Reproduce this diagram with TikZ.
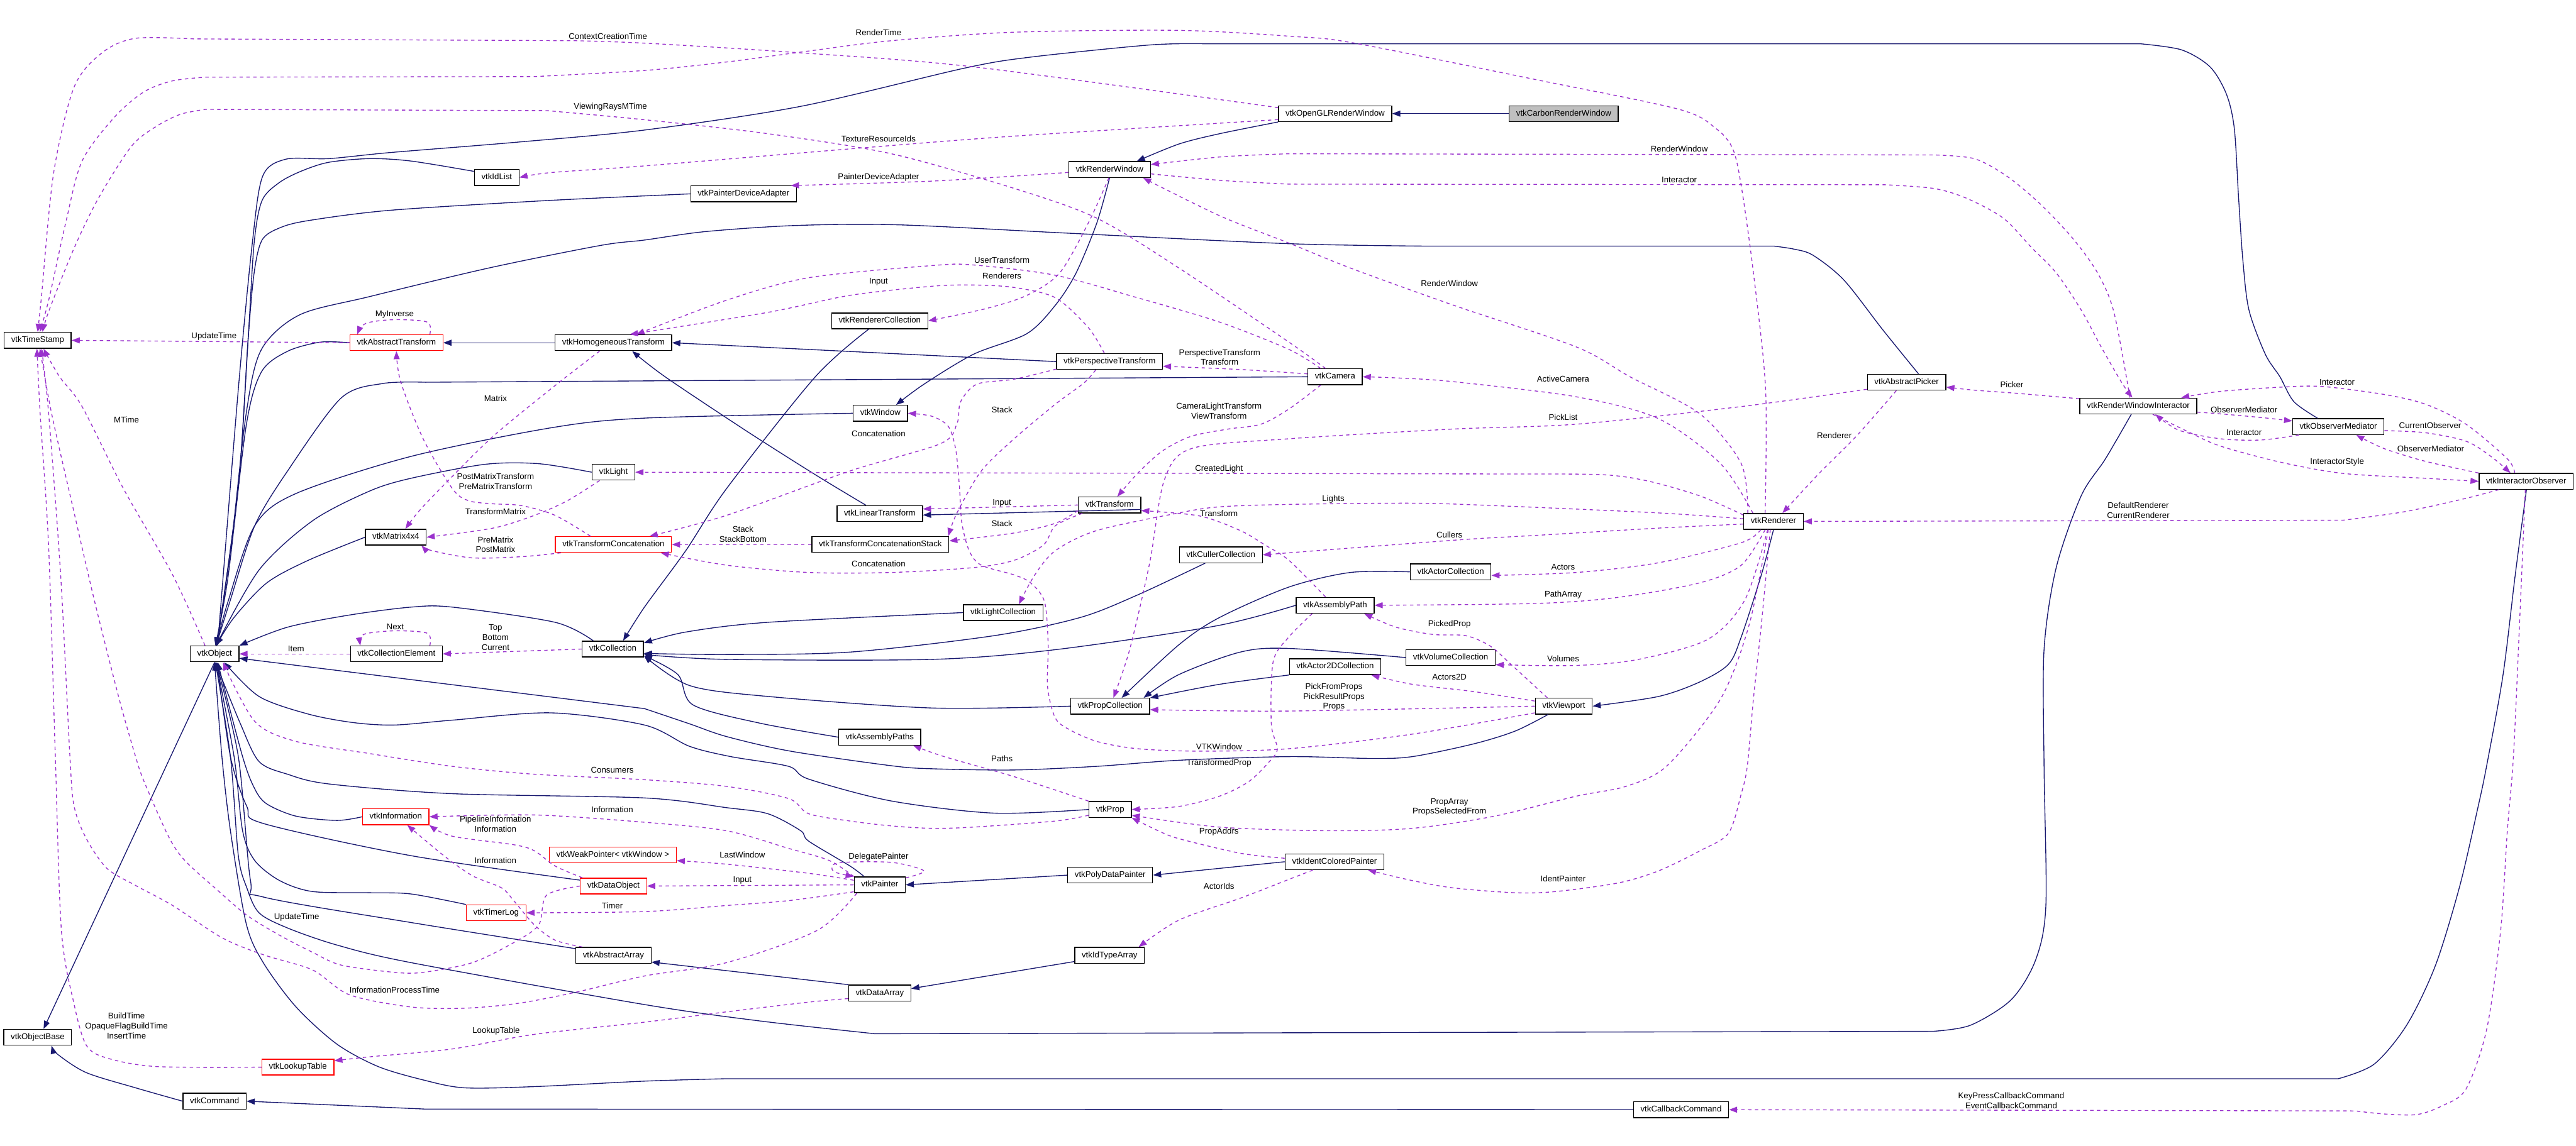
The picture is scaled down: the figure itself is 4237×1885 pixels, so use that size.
\documentclass[tikz,border=0pt]{standalone}
\usepackage{fontspec}
\setmainfont{Liberation Sans}
\usetikzlibrary{arrows.meta}
\definecolor{inhblue}{HTML}{191970}
\definecolor{usepurple}{HTML}{9A32CD}
\definecolor{boxgray}{HTML}{BFBFBF}
\begin{document}
\begin{tikzpicture}[x=0.01cm,y=-0.01cm,
  cls/.style={draw=black,line width=0.4pt,font=\fontsize{3.9}{4.6}\selectfont,inner xsep=0.115cm,inner ysep=0pt,minimum height=0.26cm,text height=2.9pt,text depth=0.9pt},
  redcls/.style={cls,draw=red},
  inh/.style={draw=inhblue,line width=0.4pt,-{Triangle[length=3.8pt,width=2.8pt]}},
  use/.style={draw=usepurple,line width=0.4pt,dash pattern=on 1.6pt off 1.6pt,-{Triangle[length=3.8pt,width=2.8pt]}},
  lbl/.style={font=\fontsize{3.9}{4.6}\selectfont,align=center,inner sep=0pt}]
\useasboundingbox (0,0) rectangle (4237,1885);
\node[cls] (ts) at (62,560) {vtkTimeStamp};
\node[cls] (ob) at (62,1707) {vtkObjectBase};
\node[cls] (obj) at (353,1076) {vtkObject};
\node[cls] (cmd) at (353,1812) {vtkCommand};
\node[redcls] (lut) at (490,1756) {vtkLookupTable};
\node[redcls] (atr) at (652,564) {vtkAbstractTransform};
\node[cls] (m44) at (651,884) {vtkMatrix4x4};
\node[cls] (cel) at (652,1076) {vtkCollectionElement};
\node[redcls] (info) at (651,1344) {vtkInformation};
\node[cls] (idl) at (817,292) {vtkIdList};
\node[redcls] (tlog) at (816,1502) {vtkTimerLog};
\node[cls] (htr) at (1009,564) {vtkHomogeneousTransform};
\node[cls] (lgt) at (1009,777) {vtkLight};
\node[redcls] (tcat) at (1009,896) {vtkTransformConcatenation};
\node[cls] (coll) at (1008,1068) {vtkCollection};
\node[redcls] (wkp) at (1008,1407) {vtkWeakPointer< vtkWindow >};
\node[redcls] (dobj) at (1009,1458) {vtkDataObject};
\node[cls] (aarr) at (1009,1572) {vtkAbstractArray};
\node[cls] (pda) at (1223,319) {vtkPainterDeviceAdapter};
\node[cls] (rcol) at (1447,528) {vtkRendererCollection};
\node[cls] (win) at (1448,680) {vtkWindow};
\node[cls] (ltr) at (1447,845) {vtkLinearTransform};
\node[cls] (tcs) at (1448,896) {vtkTransformConcatenationStack};
\node[cls] (apths) at (1447,1213) {vtkAssemblyPaths};
\node[cls] (pnt) at (1447,1456) {vtkPainter};
\node[cls] (darr) at (1447,1634) {vtkDataArray};
\node[cls] (lcol) at (1650,1008) {vtkLightCollection};
\node[cls] (rw) at (1825,279) {vtkRenderWindow};
\node[cls] (ptr) at (1825,595) {vtkPerspectiveTransform};
\node[cls] (trf) at (1825,831) {vtkTransform};
\node[cls] (pcol) at (1826,1162) {vtkPropCollection};
\node[cls] (prop) at (1826,1332) {vtkProp};
\node[cls] (pdp) at (1826,1440) {vtkPolyDataPainter};
\node[cls] (ita) at (1825,1572) {vtkIdTypeArray};
\node[cls] (ccol) at (2008,913) {vtkCullerCollection};
\node[cls] (oglw) at (2196,187) {vtkOpenGLRenderWindow};
\node[cls] (cam) at (2196,620) {vtkCamera};
\node[cls] (apth) at (2196,996) {vtkAssemblyPath};
\node[cls] (a2d) at (2196,1097) {vtkActor2DCollection};
\node[cls] (icp) at (2195,1418) {vtkIdentColoredPainter};
\node[cls] (acol) at (2386,941) {vtkActorCollection};
\node[cls] (vcol) at (2386,1082) {vtkVolumeCollection};
\node[cls,fill=boxgray] (crw) at (2572,187) {vtkCarbonRenderWindow};
\node[cls] (vp) at (2572,1162) {vtkViewport};
\node[cls] (cbc) at (2765,1826) {vtkCallbackCommand};
\node[cls] (ren) at (2917,858) {vtkRenderer};
\node[cls] (apk) at (3136,629) {vtkAbstractPicker};
\node[cls] (rwi) at (3517,668) {vtkRenderWindowInteractor};
\node[cls] (om) at (3846,702) {vtkObserverMediator};
\node[cls] (io) at (4155,792) {vtkInteractorObserver};
\node[lbl] (lbContext) at (1000,60) {ContextCreationTime};
\node[lbl] (lbRenderTime) at (1445,54) {RenderTime};
\node[lbl] (lbViewRays) at (1004,176) {ViewingRaysMTime};
\node[lbl] (lbTexture) at (1445,228) {TextureResourceIds};
\node[lbl] (lbPDA) at (1445,292) {PainterDeviceAdapter};
\node[lbl] (lbRWren) at (2384,466) {RenderWindow};
\node[lbl] (lbRWrwi) at (2762,245) {RenderWindow};
\node[lbl] (lbInteractorRW) at (2762,296) {Interactor};
\node[lbl] (lbUpdAtr) at (352,554) {UpdateTime};
\node[lbl] (lbMyInv) at (649,518) {MyInverse};
\node[lbl] (lbMatrix) at (815,656) {Matrix};
\node[lbl] (lbPostPre) at (815,792) {PostMatrixTransform\\PreMatrixTransform};
\node[lbl] (lbTMatrix) at (815,842) {TransformMatrix};
\node[lbl] (lbPrePost) at (815,896) {PreMatrix\\PostMatrix};
\node[lbl] (lbItem) at (487,1068) {Item};
\node[lbl] (lbNext) at (650,1031) {Next};
\node[lbl] (lbTop) at (815,1049) {Top\\Bottom\\Current};
\node[lbl] (lbMTime) at (208,691) {MTime};
\node[lbl] (lbRenderers) at (1648,454) {Renderers};
\node[lbl] (lbUserTr) at (1648,428) {UserTransform};
\node[lbl] (lbInputPtr) at (1445,464) {Input};
\node[lbl] (lbPerspTr) at (2006,588) {PerspectiveTransform\\Transform};
\node[lbl] (lbConcatPtr) at (1445,713) {Concatenation};
\node[lbl] (lbStackPtr) at (1648,674) {Stack};
\node[lbl] (lbStackBottom) at (1222,879) {Stack\\StackBottom};
\node[lbl] (lbConcatTrf) at (1445,928) {Concatenation};
\node[lbl] (lbStackTrf) at (1648,861) {Stack};
\node[lbl] (lbInputTrf) at (1648,828) {Input};
\node[lbl] (lbCamLight) at (2005,676) {CameraLightTransform\\ViewTransform};
\node[lbl] (lbCreatedLight) at (2005,772) {CreatedLight};
\node[lbl] (lbTransform) at (2005,845) {Transform};
\node[lbl] (lbVTKWindow) at (2005,1229) {VTKWindow};
\node[lbl] (lbPaths) at (1648,1248) {Paths};
\node[lbl] (lbTransfProp) at (2005,1256) {TransformedProp};
\node[lbl] (lbActiveCam) at (2571,624) {ActiveCamera};
\node[lbl] (lbPickList) at (2571,687) {PickList};
\node[lbl] (lbRenderer) at (3017,717) {Renderer};
\node[lbl] (lbLights) at (2193,821) {Lights};
\node[lbl] (lbCullers) at (2384,880) {Cullers};
\node[lbl] (lbActors) at (2571,933) {Actors};
\node[lbl] (lbPathArray) at (2571,979) {PathArray};
\node[lbl] (lbPickedProp) at (2384,1027) {PickedProp};
\node[lbl] (lbVolumes) at (2571,1084) {Volumes};
\node[lbl] (lbActors2D) at (2384,1114) {Actors2D};
\node[lbl] (lbProps) at (2194,1147) {PickFromProps\\PickResultProps\\Props};
\node[lbl] (lbPropArray) at (2384,1328) {PropArray\\PropsSelectedFrom};
\node[lbl] (lbIdentPainter) at (2571,1446) {IdentPainter};
\node[lbl] (lbPropAddrs) at (2005,1369) {PropAddrs};
\node[lbl] (lbActorIds) at (2005,1458) {ActorIds};
\node[lbl] (lbConsumers) at (1007,1267) {Consumers};
\node[lbl] (lbInfoPnt) at (1007,1332) {Information};
\node[lbl] (lbPipeInfo) at (815,1356) {PipelineInformation\\Information};
\node[lbl] (lbInfoArr) at (815,1416) {Information};
\node[lbl] (lbLastWindow) at (1221,1407) {LastWindow};
\node[lbl] (lbInputPnt) at (1221,1448) {Input};
\node[lbl] (lbDelegate) at (1445,1410) {DelegatePainter};
\node[lbl] (lbTimer) at (1007,1490) {Timer};
\node[lbl] (lbUpdDobj) at (488,1509) {UpdateTime};
\node[lbl] (lbInfoProc) at (649,1629) {InformationProcessTime};
\node[lbl] (lbLookup) at (816,1697) {LookupTable};
\node[lbl] (lbBuildTime) at (208,1688) {BuildTime\\OpaqueFlagBuildTime\\InsertTime};
\node[lbl] (lbKeyPress) at (3308,1811) {KeyPressCallbackCommand\\EventCallbackCommand};
\node[lbl] (lbPicker) at (3309,633) {Picker};
\node[lbl] (lbInteractorIO) at (3844,629) {Interactor};
\node[lbl] (lbObsMedRWI) at (3691,674) {ObserverMediator};
\node[lbl] (lbInteractorOM) at (3691,712) {Interactor};
\node[lbl] (lbCurObs) at (3997,700) {CurrentObserver};
\node[lbl] (lbObsMedIO) at (3998,738) {ObserverMediator};
\node[lbl] (lbIStyle) at (3844,760) {InteractorStyle};
\node[lbl] (lbDefRen) at (3517,840) {DefaultRenderer\\CurrentRenderer};
\draw[inh] (crw) -- (oglw);
\draw[inh] plot[smooth] coordinates {(oglw.south west) (2006,220) (1939,237) (rw.17)};
\draw[inh] plot[smooth] coordinates {(rw.south) (1804,367) (1770,449) (1736,502) (1689,549) (1601,583) (1520,632) (win.28)};
\draw[inh] plot[smooth] coordinates {(win.west) (1060,688) (906,704) (676,751) (487,812) (419,865) (375,990) (obj.80)};
\draw[inh] (obj.south) -- (ob.55);
\draw[inh] plot[smooth] coordinates {(cmd.west) (223,1790) (142,1765) (95,1735) (ob.-31)};
\draw[inh] (cbc.west) -- (700,1825) -- (cmd.east);
\draw[inh] plot[smooth] coordinates {(atr.west) (527,563) (473,578) (430,612) (405,700) (375,950) (obj.85)};
\draw[inh] (htr) -- (atr);
\draw[inh] (ptr.west) -- (htr.east);
\draw[inh] plot[smooth] coordinates {(ltr.149) (1344,783) (1229,710) (1094,620) (htr.-24)};
\draw[inh] (trf.-8) -- (ltr.-2);
\draw[inh] plot[smooth] coordinates {(m44.west) (507,922) (439,959) (385,1016) (obj.80)};
\draw[inh] plot[smooth] coordinates {(lgt.west) (886,763) (798,764) (676,787) (608,808) (514,857) (426,938) (obj.80)};
\draw[inh] plot[smooth] coordinates {(idl.165) (676,265) (608,261) (541,267) (497,281) (460,300) (431,330) (418,400) (408,560) (392,800) (obj.75)};
\draw[inh] plot[smooth] coordinates {(pda.west) (900,330) (642,346) (507,363) (460,375) (431,395) (418,449) (408,560) (392,800) (obj.75)};
\draw[inh] plot[smooth] coordinates {(om.158) (3773,661) (3750,620) (3726,583) (3699,510) (3689,428) (3682,326) (3675,212) (3662,155) (3635,110) (3588,82) (3520,72)} -- plot[smooth] coordinates {(1979,72) (1891,74) (1695,94) (1587,112) (1317,175) (1060,214) (850,234) (642,251) (541,261) (470,262) (432,290) (415,400) (392,640) (obj.70)};
\draw[inh] plot[smooth] coordinates {(apk.35) (3097,543) (3033,461) (2982,420) (2951,410) (2918,405)} -- plot[smooth] coordinates {(2350,405) (2120,401) (1763,384) (1479,370) (1310,371) (1161,381) (1060,395) (987,404) (804,441) (608,488) (493,518) (430,575) (405,680) (380,900) (obj.75)};
\draw[inh] (cam.west) -- plot[smooth] coordinates {(700,629) (630,631) (561,655) (473,775) (419,865) (379,987) (obj.80)};
\draw[inh] plot[smooth] coordinates {(coll.157) (913,1024) (744,999) (676,999) (575,1012) (473,1032) (obj.north east)};
\draw[inh] plot[smooth] coordinates {(rcol.-143) (1341,620) (1195,804) (1128,906) (1060,999) (coll.39)};
\draw[inh] plot[smooth] coordinates {(lcol.west) (1263,1024) (1128,1040) (coll.11)};
\draw[inh] plot[smooth] coordinates {(ccol.-152) (1871,979) (1777,1016) (1635,1046) (1398,1073) (1195,1077) (coll.-8)};
\draw[inh] plot[smooth] coordinates {(apth.west) (2000,1030) (1736,1069) (1533,1085) (1195,1085) (coll.-10)};
\draw[inh] plot[smooth] coordinates {(pcol.west) (1533,1165) (1263,1146) (1134,1128) (coll.-12)};
\draw[inh] plot[smooth] coordinates {(apths.west) (1250,1190) (1140,1160) (1115,1110) (coll.-12)};
\draw[inh] plot[smooth] coordinates {(acol.west) (2221,942) (2120,966) (2006,1016) (1939,1061) (pcol.36)};
\draw[inh] plot[smooth] coordinates {(vcol.west) (2120,1067) (2040,1073) (1939,1110) (pcol.14)};
\draw[inh] plot[smooth] coordinates {(a2d.south west) (2006,1126) (pcol.north east)};
\draw[inh] plot[smooth] coordinates {(ren.south) (2897,946) (2864,1048) (2843,1093) (2796,1122) (2728,1146) (vp.east)};
\draw[inh] plot[smooth] coordinates {(vp.-152) (2492,1203) (2424,1224) (2323,1245) (2255,1248) (2120,1245) (1939,1251) (1804,1261) (1668,1267) (1533,1265) (1466,1260) (1300,1236) (1195,1212) (1134,1191) (1060,1166)} -- (obj.-10);
\draw[inh] plot[smooth] coordinates {(prop.west) (1635,1338) (1466,1318) (1330,1282) (1297,1261) (1202,1245) (1134,1228) (1060,1193) (906,1173) (744,1185) (649,1193) (581,1189) (507,1175) (426,1146) (obj.-41)};
\draw[inh] plot[smooth] coordinates {(info.west) (554,1350) (487,1343) (439,1323) (419,1298) (399,1245) (obj.-70)};
\draw[inh] plot[smooth] coordinates {(dobj.170) (676,1408) (433,1355) (406,1327) (379,1245) (obj.-75)};
\draw[inh] plot[smooth] coordinates {(tlog.north west) (676,1471) (608,1469) (514,1467) (460,1449) (419,1416) (399,1367) (385,1245) (obj.-80)};
\draw[inh] plot[smooth] coordinates {(aarr.170) (676,1518) (433,1476) (412,1449) (392,1245) (obj.-80)};
\draw[inh] (darr.165) -- (aarr.-10);
\draw[inh] (ita.190) -- (darr.8);
\draw[inh] plot[smooth] coordinates {(pnt.152) (1398,1425) (1330,1384) (1317,1367) (1263,1339) (1195,1329) (1060,1313) (744,1306) (541,1290) (473,1274) (426,1253) (395,1190) (obj.-85)};
\draw[inh] (pdp.west) -- (pnt.east);
\draw[inh] (icp.west) -- (pdp.east);
\draw[inh] plot[smooth] coordinates {(rwi.-130) (3463,755) (3423,816) (3382,934) (3362,1069) (3362,1260) (3365,1490) (3348,1580) (3308,1645) (3241,1687) (3180,1697)} -- plot[smooth] coordinates {(1439,1701) (1250,1680) (1060,1653) (676,1584) (554,1555) (473,1527) (426,1502) (406,1461) (392,1408) (379,1245) (obj.-85)};
\draw[inh] plot[smooth] coordinates {(io.-88) (4137,946) (4117,1110) (4090,1260) (4076,1327) (4046,1457) (4006,1588) (3959,1686) (3905,1751) (3846,1775)} -- plot[smooth] coordinates {(1195,1775) (1060,1779) (879,1788) (764,1790) (696,1777) (622,1755) (554,1718) (487,1657) (433,1584) (405,1520) (379,1367) (365,1245) (obj.-90)};
\draw[use] plot[smooth] coordinates {(oglw.174) (1601,110) (1303,86) (1060,71) (946,67)} -- plot[smooth] coordinates {(318,64) (223,63) (169,86) (122,143) (88,286) (68,490) (ts.north)};
\draw[use] plot[smooth] coordinates {(ren.135) (2904,640) (2884,449) (2864,306) (2850,245) (2823,212) (2762,180) (2526,131) (2228,71) (2127,60) (1939,50) (1668,53) (1466,67) (1330,84) (1195,102) (1060,116) (879,126)} -- plot[smooth] coordinates {(338,127) (284,133) (237,151) (189,192) (135,265) (108,367) (81,490) (ts.75)};
\draw[use] plot[smooth] coordinates {(cam.139) (2120,563) (1939,441) (1804,359) (1668,310) (1466,253) (1263,220) (1060,197) (899,182)} -- plot[smooth] coordinates {(338,180) (297,188) (257,208) (216,241) (162,326) (122,408) (81,510) (ts.60)};
\draw[use] plot[smooth] coordinates {(oglw.-174) (1668,224) (1398,245) (1060,273) (906,284) (idl.east)};
\draw[use] plot[smooth] coordinates {(rw.-176) (1533,298) (pda.10)};
\draw[use] (atr.west) -- (ts.east);
\draw[use] plot[smooth] coordinates {(atr.14) (703,530) (649,526) (602,532) (atr.168)};
\draw[use] plot[smooth] coordinates {(htr.-149) (906,640) (811,718) (737,791) (690,840) (m44.41)};
\draw[use] plot[smooth] coordinates {(tcat.160) (913,848) (858,832) (811,829) (771,824) (744,804) (696,722) (659,628) (atr.south)};
\draw[use] plot[smooth] coordinates {(lgt.-149) (933,824) (879,848) (811,869) (m44.east)};
\draw[use] plot[smooth] coordinates {(tcat.-171) (858,916) (777,918) (710,906) (m44.-18)};
\draw[use] (cel.west) -- (obj.east);
\draw[use] plot[smooth] coordinates {(cel.14) (703,1042) (649,1038) (598,1044) (cel.167)};
\draw[use] (coll.west) -- (cel.east);
\draw[use] plot[smooth] coordinates {(obj.139) (284,946) (203,804) (135,669) (98,620) (ts.-55)};
\draw[use] plot[smooth] coordinates {(lut.west) (257,1755) (176,1741) (142,1720) (122,1653) (101,1531) (91,1245) (80,900) (66,680) (ts.-95)};
\draw[use] plot[smooth] coordinates {(pnt.-160) (1344,1531) (1195,1584) (1060,1606) (946,1633) (852,1651) (764,1659) (676,1657) (575,1637) (514,1596) (433,1571) (365,1543) (284,1490) (223,1457) (176,1429) (142,1380) (122,1327) (115,1245) (100,950) (80,680) (ts.-65)};
\draw[use] plot[smooth] coordinates {(dobj.west) (899,1473) (886,1522) (845,1551) (777,1584) (696,1600) (649,1600) (561,1588) (514,1567) (460,1539) (406,1506) (358,1465) (304,1416) (277,1376) (237,1286) (223,1245) (196,1150) (155,987) (122,844) (85,681) (ts.-75)};
\draw[use] plot[smooth] coordinates {(prop.195) (1736,1351) (1601,1361) (1533,1363) (1466,1359) (1398,1351) (1330,1339) (1297,1314) (1195,1294) (1060,1283) (879,1274) (744,1261) (608,1240) (487,1220) (419,1187) (obj.-45)};
\draw[use] plot[smooth] coordinates {(pnt.north west) (1364,1416) (1297,1396) (1195,1367) (1060,1353) (879,1341) (info.east)};
\draw[use] plot[smooth] coordinates {(dobj.165) (913,1425) (879,1400) (845,1390) (744,1376) (info.-14)};
\draw[use] plot[smooth] coordinates {(aarr.165) (913,1547) (879,1522) (845,1482) (825,1461) (777,1441) (730,1408) (info.-36)};
\draw[use] (pnt.west) -- (dobj.east);
\draw[use] plot[smooth] coordinates {(pnt.170) (1330,1437) (1195,1422) (wkp.-5)};
\draw[use] plot[smooth] coordinates {(pnt.15) (1520,1433) (1466,1419) (1378,1420) (1371,1434) (pnt.north west)};
\draw[use] plot[smooth] coordinates {(pnt.-165) (1297,1482) (1195,1490) (1060,1500) (tlog.east)};
\draw[use] plot[smooth] coordinates {(darr.-170) (1330,1649) (1195,1665) (1060,1682) (879,1702) (744,1726) (608,1739) (lut.10)};
\draw[use] plot[smooth] coordinates {(rw.-95) (1790,367) (1743,449) (1689,486) (1621,508) (rcol.east)};
\draw[use] plot[smooth] coordinates {(cam.150) (2120,575) (2006,530) (1871,490) (1736,453) (1601,436) (1533,437) (1330,457) (1195,494) (htr.20)};
\draw[use] plot[smooth] coordinates {(ptr.122) (1790,539) (1736,490) (1668,473) (1601,469) (1533,471) (1398,486) (1263,514) (htr.27)};
\draw[use] plot[smooth] coordinates {(cam.174) (2040,608) (ptr.-5)};
\draw[use] plot[smooth] coordinates {(ptr.-172) (1668,624) (1607,632) (1580,661) (1574,697) (1547,730) (1398,775) (1195,848) (tcat.13)};
\draw[use] plot[smooth] coordinates {(ptr.-149) (1783,630) (1736,665) (1668,722) (1614,775) (1574,844) (tcs.7)};
\draw[use] (tcs.west) -- (tcat.east);
\draw[use] plot[smooth] coordinates {(trf.-163) (1736,865) (1716,897) (1668,922) (1601,934) (1466,942) (1330,942) (1195,930) (tcat.-10)};
\draw[use] plot[smooth] coordinates {(trf.-170) (1736,861) (1668,877) (tcs.3)};
\draw[use] (trf.west) -- (ltr.6);
\draw[use] plot[smooth] coordinates {(cam.-150) (2120,673) (2074,698) (2020,706) (1959,718) (1912,742) (1871,779) (trf.47)};
\draw[use] plot[smooth] coordinates {(apth.139) (2120,922) (2081,897) (2040,873) (1973,849) (trf.-10)};
\draw[use] plot[smooth] coordinates {(ren.162) (2864,763) (2796,681) (2681,620) (2593,571) (2390,502) (2221,441) (2120,400) (2006,355) (rw.-14)};
\draw[use] plot[smooth] coordinates {(rwi.135) (3477,514) (3450,449) (3409,392) (3355,335) (3301,290) (3247,261) (3180,255)} -- plot[smooth] coordinates {(2120,253) (2010,258) (rw.7)};
\draw[use] plot[smooth] coordinates {(rw.-6) (2010,297) (2120,303)} -- plot[smooth] coordinates {(3100,304) (3180,310) (3234,326) (3295,359) (3342,408) (3382,449) (3423,510) (3456,571) (3490,630) (rwi.125)};
\draw[use] plot[smooth] coordinates {(ren.158) (2830,763) (2728,689) (2593,653) (2390,628) (2300,622) (cam.east)};
\draw[use] plot[smooth] coordinates {(apk.190) (2864,669) (2593,698) (2390,706) (2120,722) (1960,738) (1915,790) (1891,926) (1858,1069) (pcol.69)};
\draw[use] plot[smooth] coordinates {(apk.-141) (3053,718) (2992,779) (ren.43)};
\draw[use] plot[smooth] coordinates {(ren.168) (2796,816) (2708,791) (2634,781) (2500,780)} -- (lgt.east);
\draw[use] plot[smooth] coordinates {(ren.175) (2728,844) (2458,832) (2323,828) (2120,830) (2006,834) (1939,844) (1804,873) (1736,906) (1702,946) (lcol.28)};
\draw[use] plot[smooth] coordinates {(ren.-175) (2728,869) (2526,881) (2390,889) (ccol.east)};
\draw[use] plot[smooth] coordinates {(ren.-147) (2864,893) (2728,926) (2593,942) (acol.-5)};
\draw[use] plot[smooth] coordinates {(ren.-135) (2864,930) (2796,959) (2661,983) (2526,993) (apth.east)};
\draw[use] plot[smooth] coordinates {(ren.-125) (2870,987) (2809,1052) (2695,1085) (2593,1095) (vcol.-9)};
\draw[use] plot[smooth] coordinates {(vp.153) (2485,1093) (2451,1063) (2411,1046) (2357,1044) (2296,1032) (apth.-16)};
\draw[use] plot[smooth] coordinates {(vp.170) (2424,1138) (2323,1126) (a2d.-13)};
\draw[use] plot[smooth] coordinates {(vp.west) (2120,1170) (pcol.-5)};
\draw[use] plot[smooth] coordinates {(vp.193) (2323,1208) (2120,1232) (1973,1236) (1871,1232) (1804,1220) (1756,1199) (1735,1180) (1723,1130) (1724,1060) (1718,990) (1695,959) (1668,946) (1614,930) (1594,906) (1582,860) (1578,800) (1572,740) (1560,702) (1533,685) (win.east)};
\draw[use] plot[smooth] coordinates {(apth.-160) (2120,1048) (2094,1089) (2091,1191) (2101,1232) (2088,1253) (2054,1286) (2006,1310) (1939,1327) (prop.east)};
\draw[use] plot[smooth] coordinates {(ren.-122) (2877,1028) (2830,1150) (2742,1260) (2674,1294) (2593,1310) (2458,1343) (2323,1363) (2188,1367) (2006,1361) (prop.-15)};
\draw[use] plot[smooth] coordinates {(ren.-111) (2897,1028) (2884,1150) (2874,1260) (2864,1306) (2843,1371) (2796,1400) (2728,1433) (2661,1453) (2559,1467) (2492,1469) (2390,1461) (2323,1449) (icp.-14)};
\draw[use] plot[smooth] coordinates {(icp.176) (2040,1404) (1939,1380) (1905,1367) (prop.south east)};
\draw[use] plot[smooth] coordinates {(icp.-159) (2120,1447) (2040,1478) (1939,1514) (ita.16)};
\draw[use] plot[smooth] coordinates {(prop.north west) (1668,1278) (1553,1245) (apths.-14)};
\draw[use] plot[smooth] coordinates {(rwi.173) (3315,647) (3247,642) (apk.-7)};
\draw[use] plot[smooth] coordinates {(rwi.-6) (3652,681) (3719,687) (om.173)};
\draw[use] plot[smooth] coordinates {(om.-168) (3719,724) (3652,722) (3584,708) (rwi.-26)};
\draw[use] plot[smooth] coordinates {(rwi.-30) (3598,710) (3652,734) (3753,761) (3854,779) (3989,787) (io.west)};
\draw[use] plot[smooth] coordinates {(io.144) (4124,755) (4056,698) (3989,665) (3921,649) (3820,636) (3753,637) (3652,644) (rwi.11)};
\draw[use] plot[smooth] coordinates {(om.-5) (3989,712) (4056,726) (4097,751) (io.152)};
\draw[use] plot[smooth] coordinates {(io.north west) (3989,759) (3921,738) (om.-25)};
\draw[use] plot[smooth] coordinates {(io.-163) (4056,820) (3955,842) (3854,856)} -- (ren.east);
\draw[use] plot[smooth] coordinates {(io.-96) (4144,1028) (4134,1245) (4124,1367) (4113,1531) (4090,1694) (4056,1792) (4016,1820) (3975,1834) (3921,1833) (3874,1828)} -- (cbc.east);
\end{tikzpicture}
\end{document}
